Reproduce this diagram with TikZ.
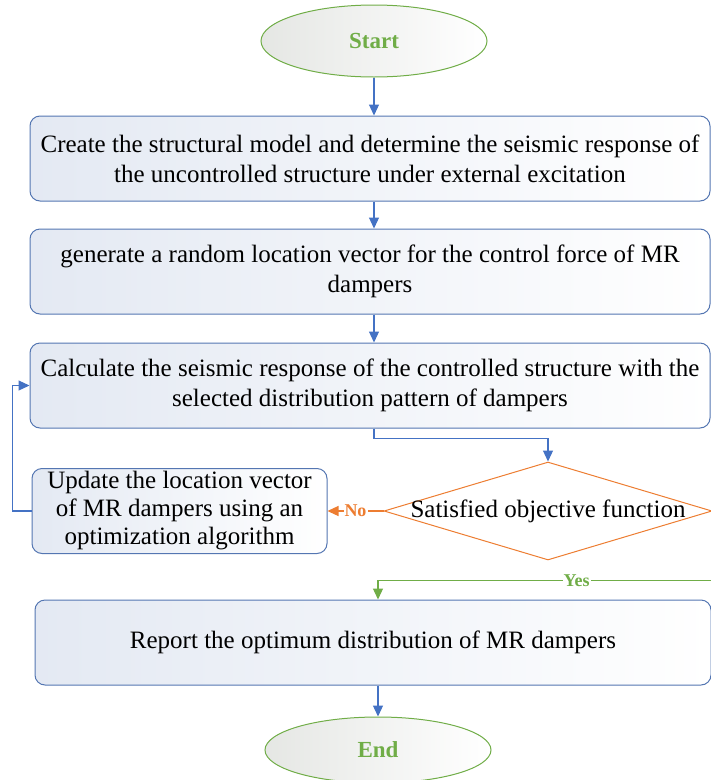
\documentclass[tikz,border=0pt]{standalone}
\usepackage{fontspec}
\setmainfont{Liberation Serif}
\usepackage{tikz}
\usetikzlibrary{shapes.geometric, arrows.meta, positioning, calc}
\tikzset{
    flowblock/.style={rectangle, draw=#1, left color=#1!16, right color=white, rounded corners=10pt, minimum width=680pt, minimum height=85pt, align=center, font=\fontsize{25}{30}\selectfont, line width=1pt, inner sep=4pt},
    flowterm/.style={ellipse, draw=#1, left color=#1!14!gray!20, right color=white, minimum width=226pt, minimum height=72pt, font=\fontsize{23}{26}\selectfont\bfseries, text=#1, line width=1pt},
    flowdec/.style={diamond, draw=#1, fill=white, inner sep=0pt, minimum width=328pt, minimum height=98pt, font=\fontsize{25}{30}\selectfont, line width=1pt},
    flowarrow/.style={-{Triangle[length=11pt, width=10pt]}, draw=#1, line width=1.2pt},
    flowannot/.style={font=\fontsize{18}{20}\selectfont\bfseries, text=#1, fill=white, inner sep=1pt}
}
\definecolor{flowblue}{RGB}{68,114,196}
\definecolor{edgeblue}{RGB}{84,118,178}
\definecolor{flowgreen}{RGB}{112,173,71}
\definecolor{floworange}{RGB}{237,125,49}

\begin{document}
\begin{tikzpicture}[x=1pt, y=1pt, node distance=30pt]
\useasboundingbox (0,0) rectangle (711,-780);

\node[flowterm=flowgreen] (start) at (374,-41) {Start};
\node[flowblock=edgeblue, below=38pt of start, xshift=-4pt] (model) {Create the structural model and determine the seismic response of\\the uncontrolled structure under external excitation};
\node[flowblock=edgeblue, below=27pt of model] (random) {generate a random location vector for the control force of MR\\dampers};
\node[flowblock=edgeblue, below=28pt of random] (response) {Calculate the seismic response of the controlled structure with the\\selected distribution pattern of dampers};
\node[flowdec=floworange, anchor=north] (check) at ([xshift=178pt, yshift=-33pt]response.south) {\makebox[0pt]{Satisfied objective function}};
\node[flowblock=edgeblue, minimum width=295pt, inner ysep=0pt, font=\fontsize{25}{28}\selectfont, left=56pt of check] (update) {Update the location vector\\of MR dampers using an\\optimization algorithm};
\node[flowblock=edgeblue, minimum width=676pt, anchor=north] (report) at ([yshift=-39pt]check.south -| 373,0) {Report the optimum distribution of MR dampers};
\node[flowterm=flowgreen, minimum height=66pt, below=31pt of report, xshift=5pt] (end) {End};

% main flow
\draw[flowarrow=flowblue] (start) -- (start |- model.north);
\draw[flowarrow=flowblue] (model.south -| start) -- (random.north -| start);
\draw[flowarrow=flowblue] (random.south -| start) -- (response.north -| start);
\draw[flowarrow=flowblue] (response.south -| start) -- ++(0,-10) -| (check.north);
\draw[flowarrow=floworange] (check.west) -- node[flowannot=floworange] {No} (update.east);
\draw[flowarrow=flowblue] (update.west) -- ++(-19,0) |- (response.west);
\draw[flowarrow=flowgreen] (check.east) -- ++(20,0) |- ([yshift=19pt]report.north -| end) node[pos=0.72, flowannot=flowgreen] {Yes} -- (report.north -| end);
\draw[flowarrow=flowblue] (report.south -| end) -- (end);

\end{tikzpicture}
\end{document}
